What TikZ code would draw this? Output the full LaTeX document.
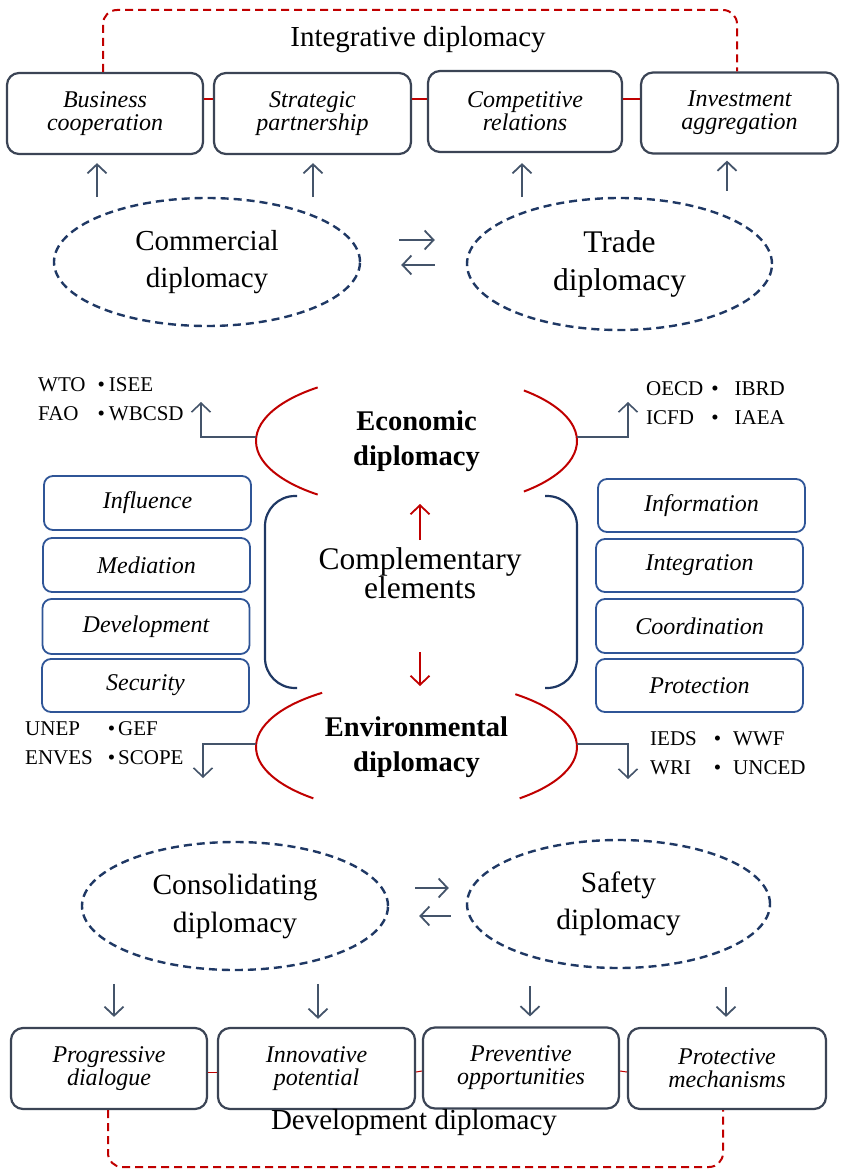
\documentclass[tikz,border=0pt]{standalone}
\usepackage{fontspec}
\setmainfont{Liberation Serif}
\usetikzlibrary{shapes.geometric,arrows.meta}

\definecolor{frame}{HTML}{3B4455}
\definecolor{navy}{HTML}{1F3864}
\definecolor{dred}{HTML}{C00000}
\definecolor{bluebox}{HTML}{2F5597}
\definecolor{slate}{HTML}{44546A}

\begin{document}
\begin{tikzpicture}[x=1pt,y=-1pt,
  mainbox/.style={draw=frame, line width=2.2pt, rounded corners=12pt, fill=white,
    minimum width=196pt, minimum height=81pt, align=center, inner sep=0pt,
    font=\fontsize{24}{23}\selectfont\itshape},
  sidebox/.style={draw=bluebox, line width=1.8pt, rounded corners=9pt, fill=white,
    minimum width=207pt, minimum height=54pt, inner sep=0pt,
    font=\fontsize{24}{26}\selectfont\itshape},
  oval/.style={ellipse, draw=navy, line width=2.4pt, dash pattern=on 8pt off 5pt,
    minimum width=306pt, minimum height=128pt, align=center, inner sep=0pt,
    font=\fontsize{29}{37}\selectfont},
  arr/.style={draw=slate, line width=1.8pt, -{Straight Barb[length=9pt,width=19pt]}},
  link/.style={draw=slate, line width=1.6pt, -{Straight Barb[length=9pt,width=19pt]}},
  redarr/.style={draw=dred, line width=1.8pt, -{Straight Barb[length=9pt,width=19pt]}},
  redframe/.style={draw=dred, line width=2pt, dash pattern=on 8pt off 5pt, rounded corners=14pt},
  redtie/.style={draw=dred, line width=2pt},
  redcurve/.style={draw=dred, line width=2pt},
  bracket/.style={draw=navy, line width=2.2pt, rounded corners=30pt},
  title/.style={font=\fontsize{29}{29}\selectfont, inner sep=0pt},
  listtxt/.style={font=\fontsize{21}{29}\selectfont, inner sep=0pt, anchor=base west},
  hub/.style={ellipse, minimum width=321pt, minimum height=136pt, inner sep=0pt,
    align=center, font=\fontsize{28.5}{35}\selectfont\bfseries}
]
\useasboundingbox (0,0) rectangle (840,1169);

% ---------- integrative diplomacy ----------
\coordinate (ftl) at (103,10);
\coordinate (ftr) at (737,10);
\node[mainbox] (b1) at (105,113.5) {Business\\cooperation};
\node[mainbox, minimum width=197pt] (b2) at (312.5,113.5) {Strategic\\partnership};
\node[mainbox, minimum width=194pt] (b3) at (525,111.5) {Competitive\\relations};
\node[mainbox, minimum width=197pt] (b4) at (739.5,113) {Investment\\aggregation};
\draw[redframe] (b1.north -| ftl) -- (ftl) -- (ftr) -- (b4.north -| ftr);
\draw[redtie] ([yshift=14.5pt]b1.east) -- ([yshift=14.5pt]b2.west);
\draw[redtie] ([yshift=14.5pt]b2.east) -- ([yshift=12.5pt]b3.west);
\draw[redtie] ([yshift=12.5pt]b3.east) -- ([yshift=14pt]b4.west);
\node[title] (integ) at (418,40) {Integrative diplomacy};

% ---------- commercial / trade ----------
\node[oval] (com) at (207,262) {Commercial\\diplomacy};
\node[oval, minimum width=305pt, minimum height=132pt, font=\fontsize{31.5}{38}\selectfont]
  (trd) at (619.5,264) {Trade\\diplomacy};
\draw[arr] ([xshift=-8pt,yshift=-42pt]b1.south) -- ([xshift=-8pt,yshift=-8pt]b1.south);
\draw[arr] ([xshift=0.5pt,yshift=-42pt]b2.south) -- ([xshift=0.5pt,yshift=-8pt]b2.south);
\draw[arr] ([xshift=-3pt,yshift=-44pt]b3.south) -- ([xshift=-3pt,yshift=-10pt]b3.south);
\draw[arr] ([xshift=-12.5pt,yshift=-36pt]b4.south) -- ([xshift=-12.5pt,yshift=-6pt]b4.south);
\draw[arr] ([xshift=38pt,yshift=22pt]com.east) -- ([xshift=-31pt,yshift=24pt]trd.west);
\draw[arr] ([xshift=-31pt,yshift=-1pt]trd.west) -- ([xshift=40pt,yshift=-3pt]com.east);

% ---------- economic diplomacy ----------
\node[hub] (econ) at (416.5,441) {Economic\\diplomacy};
\draw[redcurve] ([shift={(128:160.5pt and 68pt)}]econ.center)
  arc[start angle=128, end angle=232, x radius=160.5pt, y radius=68pt];
\draw[redcurve] ([shift={(-48:160.5pt and 68pt)}]econ.center)
  arc[start angle=-48, end angle=48, x radius=160.5pt, y radius=68pt];
\coordinate (econL) at (201,402);
\coordinate (econR) at (628,402);
\draw[link] ([yshift=4pt]econ.west) -| (econL);
\draw[link] ([yshift=4pt]econ.east) -| (econR);
\node[listtxt] (orgA) at (38,391)
  {\begin{tabular}[t]{@{}l@{\hspace{12pt}}l@{\hspace{4pt}}l@{}}WTO & \textbullet & ISEE\\ FAO & \textbullet & WBCSD\end{tabular}};
\node[listtxt] (orgB) at (646,395)
  {\begin{tabular}[t]{@{}l@{\hspace{8pt}}l@{\hspace{16pt}}l@{}}OECD & \textbullet & IBRD\\ ICFD & \textbullet & IAEA\end{tabular}};

% ---------- complementary elements ----------
\node[font=\fontsize{31.5}{29}\selectfont, align=center, inner sep=0pt] (comp) at (420,573)
  {Complementary\\elements};
\coordinate (kl1) at (297,496);
\coordinate (kl2) at (265,496);
\coordinate (kl3) at (265,688);
\coordinate (kl4) at (297,688);
\coordinate (kr1) at (545,496);
\coordinate (kr2) at (577,496);
\coordinate (kr3) at (577,688);
\coordinate (kr4) at (545,688);
\draw[bracket] (kl1) -- (kl2) -- (kl3) -- (kl4);
\draw[bracket] (kr1) -- (kr2) -- (kr3) -- (kr4);
\coordinate (upT) at (420,540);
\coordinate (upH) at (420,504);
\coordinate (dnT) at (420,652);
\coordinate (dnH) at (420,686);
\draw[redarr] (upT) -- (upH);
\draw[redarr] (dnT) -- (dnH);

\node[sidebox] (s1) at (147.5,503) {Influence};
\node[sidebox] (s2) at (146.5,565) {Mediation};
\node[sidebox, minimum height=55pt] (s3) at (146,626.5) {Development};
\node[sidebox, minimum height=53pt] (s4) at (145.5,685.5) {Security};
\node[sidebox, minimum height=53pt] (r1) at (701.5,505.5) {Information};
\node[sidebox, minimum height=53pt] (r2) at (699.5,565.5) {Integration};
\node[sidebox] (r3) at (699.5,626) {Coordination};
\node[sidebox, minimum height=53pt] (r4) at (699.5,685.5) {Protection};

% ---------- environmental diplomacy ----------
\node[hub, minimum height=134pt] (env) at (416.5,747) {Environmental\\diplomacy};
\draw[redcurve] ([shift={(126:160.5pt and 67pt)}]env.center)
  arc[start angle=126, end angle=230, x radius=160.5pt, y radius=67pt];
\draw[redcurve] ([shift={(-50:160.5pt and 67pt)}]env.center)
  arc[start angle=-50, end angle=52, x radius=160.5pt, y radius=67pt];
\coordinate (envL) at (203,778);
\coordinate (envR) at (628,779);
\draw[link] ([yshift=3pt]env.west) -| (envL);
\draw[link] ([yshift=3pt]env.east) -| (envR);
\node[listtxt] (orgC) at (25,735)
  {\begin{tabular}[t]{@{}l@{\hspace{15pt}}l@{\hspace{3pt}}l@{}}UNEP & \textbullet & GEF\\ ENVES & \textbullet & SCOPE\end{tabular}};
\node[listtxt] (orgD) at (650,745)
  {\begin{tabular}[t]{@{}l@{\hspace{17pt}}l@{\hspace{12pt}}l@{}}IEDS & \textbullet & WWF\\ WRI & \textbullet & UNCED\end{tabular}};

% ---------- consolidating / safety ----------
\node[oval, font=\fontsize{29.4}{38}\selectfont] (cons) at (235,906) {Consolidating\\diplomacy};
\node[oval, minimum width=303pt, font=\fontsize{29.4}{37}\selectfont] (saf) at (618.5,904) {Safety\\diplomacy};
\draw[arr] ([xshift=26pt,yshift=18pt]cons.east) -- ([xshift=-17pt,yshift=16pt]saf.west);
\draw[arr] ([xshift=-15pt,yshift=-12pt]saf.west) -- ([xshift=30pt,yshift=-10pt]cons.east);

% ---------- development diplomacy ----------
\node[mainbox] (d1) at (109,1068.5) {Progressive\\dialogue};
\node[mainbox, minimum width=197pt] (d2) at (316.5,1068.5) {Innovative\\potential};
\node[mainbox] (d3) at (521,1068) {Preventive\\opportunities};
\node[mainbox, minimum width=198pt] (d4) at (727,1068.5) {Protective\\mechanisms};
\draw[arr] ([xshift=5pt,yshift=43pt]d1.north) -- ([xshift=5pt,yshift=10pt]d1.north);
\draw[arr] ([xshift=1.5pt,yshift=43pt]d2.north) -- ([xshift=1.5pt,yshift=8pt]d2.north);
\draw[arr] ([xshift=9pt,yshift=40pt]d3.north) -- ([xshift=9pt,yshift=10pt]d3.north);
\draw[arr] ([xshift=-1pt,yshift=40pt]d4.north) -- ([xshift=-1pt,yshift=10pt]d4.north);
\coordinate (fbl) at (108,1167);
\coordinate (fbr) at (723,1167);
\draw[redframe] (d1.south -| fbl) -- (fbl) -- (fbr) -- (d4.south -| fbr);
\draw[redtie, line width=1pt] ([yshift=-3.5pt]d1.east) -- ([yshift=-3.5pt]d2.west);
\draw[redtie, line width=1pt] ([yshift=-3.5pt]d2.east) -- ([yshift=-3pt]d3.west);
\draw[redtie, line width=1pt] ([yshift=-3pt]d3.east) -- ([yshift=-3.5pt]d4.west);
\node[title] (devel) at (414,1123) {Development diplomacy};
\end{tikzpicture}
\end{document}
